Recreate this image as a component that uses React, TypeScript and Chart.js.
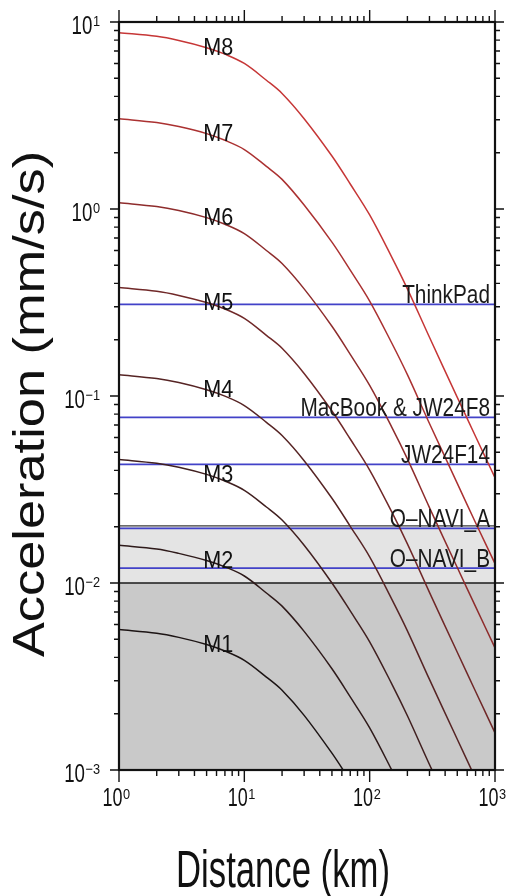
import React, { useEffect, useRef } from "react";
import { Chart, registerables } from "chart.js";

Chart.register(...registerables);

// ---- data ----
const distances = [1, 2, 3, 5, 7, 10, 15, 20, 30, 50, 70, 100, 150, 200, 300, 500, 700, 1000];

const m1 = [0.00564, 0.00539, 0.00512, 0.00469, 0.00433, 0.00386, 0.00314, 0.00267, 0.00196, 0.00123, 0.000874];
const m2 = [0.0159, 0.0152, 0.0144, 0.0132, 0.0122, 0.0109, 0.00884, 0.00752, 0.00551, 0.00348, 0.00246, 0.00168, 0.00100, 0.000678];
const m3 = [0.0458, 0.0437, 0.0416, 0.0381, 0.0351, 0.0313, 0.0255, 0.0217, 0.0159, 0.0100, 0.00709, 0.00485, 0.00289, 0.00195, 0.00107, 0.000514];
const m4 = [0.130, 0.124, 0.118, 0.108, 0.0998, 0.0889, 0.0723, 0.0615, 0.0451, 0.0284, 0.0201, 0.0138, 0.0082, 0.00555, 0.00305, 0.00146, 0.00090];
const m5 = [0.380, 0.363, 0.345, 0.316, 0.292, 0.260, 0.211, 0.180, 0.132, 0.0831, 0.0589, 0.0402, 0.0240, 0.0162, 0.00891, 0.00426, 0.00263, 0.00158];
const m6 = [1.08, 1.03, 0.981, 0.899, 0.829, 0.739, 0.600, 0.511, 0.374, 0.236, 0.167, 0.114, 0.0682, 0.0461, 0.0253, 0.0121, 0.00747, 0.00450];
const m7 = [3.04, 2.90, 2.76, 2.53, 2.33, 2.08, 1.69, 1.44, 1.05, 0.665, 0.471, 0.322, 0.192, 0.130, 0.0713, 0.0341, 0.0210, 0.0127];
const m8 = [8.77, 8.38, 7.96, 7.29, 6.73, 6.00, 4.88, 4.15, 3.04, 1.92, 1.36, 0.929, 0.553, 0.374, 0.206, 0.0984, 0.0607, 0.0366];

const magnitudeNames = ["M1", "M2", "M3", "M4", "M5", "M6", "M7", "M8"];
const magnitudeSeries = [m1, m2, m3, m4, m5, m6, m7, m8];
const curveColors = ["#1c1414", "#2e1a1a", "#401f1f", "#562424", "#702828", "#8e2c2c", "#ab3131", "#c63636"];
const curveLabelDistance = 6.2;

const thresholdNames = ["ThinkPad", "MacBook & JW24F8", "JW24F14", "O–NAVI_A", "O–NAVI_B"];
const thresholdValues = [0.309, 0.0769, 0.0431, 0.0196, 0.012];
const thresholdColor = "#4242c8";

const bandLower = [0.001, 0.01];
const bandUpper = [0.01, 0.02];
const bandColors = ["#c9c9c9", "#e4e4e4"];
const referenceLevels = [0.01, 0.0202];
const referenceColors = ["#1a1a1a", "#3a3a3a"];

const xMin = 1;
const xMax = 1000;
const yMin = 0.001;
const yMax = 10;

const xTickValues = [1, 10, 100, 1000];
const xTickExponents = ["0", "1", "2", "3"];
const yTickValues = [10, 1, 0.1, 0.01, 0.001];
const yTickExponents = ["1", "0", "−1", "−2", "−3"];

const xTitle = "Distance (km)";
const yTitle = "Acceleration (mm/s/s)";

const FONT = "'Liberation Sans', Arial, Helvetica, sans-serif";

function drawText(
  ctx: CanvasRenderingContext2D,
  text: string,
  x: number,
  y: number,
  size: number,
  sx: number,
  align: CanvasTextAlign,
  baseline: CanvasTextBaseline = "alphabetic",
  color = "#111"
) {
  ctx.save();
  ctx.translate(x, y);
  ctx.scale(sx, 1);
  ctx.font = `${size}px ${FONT}`;
  ctx.fillStyle = color;
  ctx.textAlign = align;
  ctx.textBaseline = baseline;
  ctx.fillText(text, 0, 0);
  ctx.restore();
}

function textWidth(ctx: CanvasRenderingContext2D, text: string, size: number, sx: number) {
  ctx.save();
  ctx.font = `${size}px ${FONT}`;
  const w = ctx.measureText(text).width * sx;
  ctx.restore();
  return w;
}

export default function App() {
  const ref = useRef<HTMLCanvasElement>(null);

  useEffect(() => {
    document.body.style.margin = "0";
    const canvas = ref.current!;

    const datasets: any[] = [];
    magnitudeSeries.forEach((vals, i) => {
      datasets.push({
        label: magnitudeNames[i],
        data: vals.map((v, k) => ({ x: distances[k], y: v })),
        borderColor: curveColors[i],
        borderWidth: 1.5,
        pointRadius: 0,
        tension: 0.35,
        fill: false,
      });
    });
    thresholdValues.forEach((v, i) => {
      datasets.push({
        label: thresholdNames[i],
        data: [
          { x: xMin, y: v },
          { x: xMax, y: v },
        ],
        borderColor: thresholdColor,
        borderWidth: 1.7,
        pointRadius: 0,
        fill: false,
      });
    });

    const decorPlugin = {
      id: "decor",
      beforeDraw(chart: any) {
        const ctx = chart.ctx as CanvasRenderingContext2D;
        ctx.save();
        ctx.fillStyle = "#ffffff";
        ctx.fillRect(0, 0, chart.width, chart.height);
        ctx.restore();
      },
      beforeDatasetsDraw(chart: any) {
        const ctx = chart.ctx as CanvasRenderingContext2D;
        const xs = chart.scales.x;
        const ys = chart.scales.y;
        const { left, right } = chart.chartArea;
        ctx.save();
        bandLower.forEach((lo, i) => {
          const yTop = ys.getPixelForValue(bandUpper[i]);
          const yBot = ys.getPixelForValue(lo);
          ctx.fillStyle = bandColors[i];
          ctx.fillRect(left, yTop, right - left, yBot - yTop);
        });
        referenceLevels.forEach((lv, i) => {
          const y = ys.getPixelForValue(lv);
          ctx.strokeStyle = referenceColors[i];
          ctx.lineWidth = i === 0 ? 1.6 : 1.2;
          ctx.beginPath();
          ctx.moveTo(xs.getPixelForValue(xMin), y);
          ctx.lineTo(xs.getPixelForValue(xMax), y);
          ctx.stroke();
        });
        ctx.restore();
      },
      afterDatasetsDraw(chart: any) {
        const ctx = chart.ctx as CanvasRenderingContext2D;
        const xs = chart.scales.x;
        const ys = chart.scales.y;
        const { left, right, top, bottom } = chart.chartArea;

        ctx.save();
        // frame
        ctx.strokeStyle = "#111";
        ctx.lineWidth = 2.2;
        ctx.strokeRect(left, top, right - left, bottom - top);

        // ticks
        ctx.lineWidth = 1.4;
        ctx.beginPath();
        for (let d = 0; d <= 3; d++) {
          for (let m = 1; m <= 9; m++) {
            const v = m * Math.pow(10, d);
            if (v > xMax + 1e-9) break;
            const px = xs.getPixelForValue(v);
            const len = m === 1 ? 12 : 6;
            ctx.moveTo(px, bottom);
            ctx.lineTo(px, bottom + len);
            ctx.moveTo(px, top);
            ctx.lineTo(px, top - len);
          }
        }
        for (let d = -3; d <= 1; d++) {
          for (let m = 1; m <= 9; m++) {
            const v = m * Math.pow(10, d);
            if (v > yMax * 1.0001) break;
            const py = ys.getPixelForValue(v);
            const len = m === 1 ? 9 : 5;
            ctx.moveTo(left, py);
            ctx.lineTo(left - len, py);
            ctx.moveTo(right, py);
            ctx.lineTo(right + len, py);
          }
        }
        ctx.stroke();

        // y tick labels
        yTickValues.forEach((v, i) => {
          const py = ys.getPixelForValue(v);
          const exp = yTickExponents[i];
          const ew = textWidth(ctx, exp, 15, 0.85);
          const rightEdge = 100;
          drawText(ctx, exp, rightEdge - ew, py + 3.8, 15, 0.85, "left");
          drawText(ctx, "10", rightEdge - ew - 0.5, py + 12, 26, 0.72, "right");
        });

        // x tick labels
        xTickValues.forEach((v, i) => {
          const px = xs.getPixelForValue(v);
          const exp = xTickExponents[i];
          const ew = textWidth(ctx, exp, 15, 0.85);
          const bw = textWidth(ctx, "10", 25, 0.72);
          const l = px - 3 - (ew + bw) / 2;
          drawText(ctx, "10", l, bottom + 36, 25, 0.72, "left");
          drawText(ctx, exp, l + bw + 0.5, bottom + 28.5, 15, 0.85, "left");
        });

        // axis titles
        drawText(ctx, xTitle, 283, 887, 51, 0.68, "center");
        ctx.save();
        ctx.translate(44, 404);
        ctx.rotate(-Math.PI / 2);
        ctx.scale(1.19, 1);
        ctx.font = `${44}px ${FONT}`;
        ctx.fillStyle = "#111";
        ctx.textAlign = "center";
        ctx.textBaseline = "alphabetic";
        ctx.fillText(yTitle, 0, 0);
        ctx.restore();

        // curve labels
        const lx = xs.getPixelForValue(curveLabelDistance);
        magnitudeNames.forEach((name, i) => {
          const pts = chart.getDatasetMeta(i).data as any[];
          let ly = pts[0].y;
          for (let k = 0; k < pts.length - 1; k++) {
            if (pts[k].x <= lx && pts[k + 1].x >= lx) {
              const t = (lx - pts[k].x) / (pts[k + 1].x - pts[k].x);
              ly = pts[k].y + t * (pts[k + 1].y - pts[k].y);
              break;
            }
          }
          drawText(ctx, name, lx, ly - 3.5, 24, 0.9, "center", "middle", "#111");
        });

        // threshold labels
        thresholdValues.forEach((v, i) => {
          const py = ys.getPixelForValue(v);
          drawText(ctx, thresholdNames[i], right - 5, py - 1.5, 26, 0.8, "right", "alphabetic", "#1a1a1a");
        });
        ctx.restore();
      },
    };

    const chart = new Chart(canvas, {
      type: "line",
      data: { datasets },
      options: {
        responsive: false,
        animation: false,
        devicePixelRatio: 1,
        layout: { padding: { left: 119, right: 16, top: 22, bottom: 126 } },
        plugins: { legend: { display: false }, tooltip: { enabled: false } },
        scales: {
          x: { type: "logarithmic", min: xMin, max: xMax, display: false },
          y: { type: "logarithmic", min: yMin, max: yMax, display: false },
        },
      } as any,
      plugins: [decorPlugin],
    });

    return () => chart.destroy();
  }, []);

  return <canvas ref={ref} width={511} height={896} style={{ display: "block" }} />;
}
